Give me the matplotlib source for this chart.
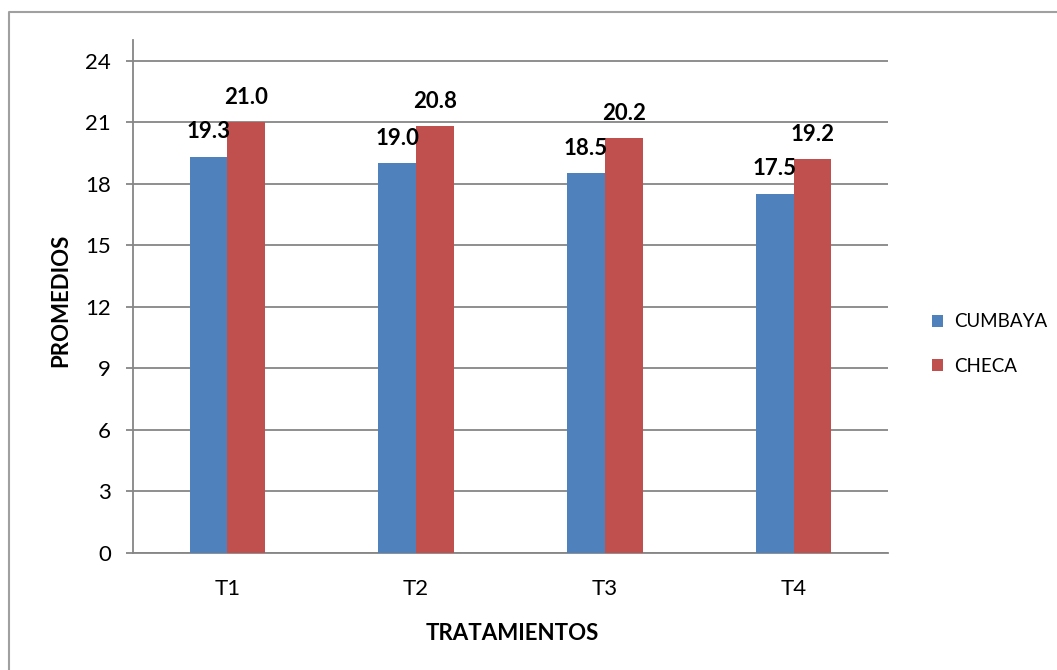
import matplotlib
matplotlib.use("Agg")
import matplotlib.pyplot as plt
from matplotlib.lines import Line2D
from matplotlib.patches import Patch
import numpy as np

plt.rcParams['font.family'] = ['Lato', 'DejaVu Sans']

categories = ["T1", "T2", "T3", "T4"]
cumbaya = [19.3, 19.0, 18.5, 17.5]
checa = [21.0, 20.8, 20.2, 19.2]
series_names = ["CUMBAYA", "CHECA"]
yticks = [0, 3, 6, 9, 12, 15, 18, 21, 24]

blue = "#4F81BD"
red = "#C0504D"
grid_gray = "#868686"

fig = plt.figure(figsize=(10.57, 6.70), dpi=100)
ax = fig.add_axes([133 / 1057, 1 - 553 / 670, (888 - 133) / 1057, (553 - 40) / 670])

x = np.arange(len(categories))
w = 0.2
b1 = ax.bar(x - w / 2, cumbaya, width=w, color=blue, zorder=3)
b2 = ax.bar(x + w / 2, checa, width=w, color=red, zorder=3)

for bars, vals in ((b1, cumbaya), (b2, checa)):
    for rect, v in zip(bars, vals):
        ax.annotate(f"{v:.1f}", (rect.get_x() + rect.get_width() / 2, v),
                    xytext=(0, 18), textcoords="offset points",
                    ha="center", va="center", fontsize=16, fontweight="bold",
                    color="black", zorder=5)

ax.set_xlim(-0.5, len(categories) - 0.5)
ax.set_ylim(0, 25)
ax.set_yticks(yticks)
ax.set_xticks(x)
ax.set_xticklabels(categories)
ax.yaxis.grid(True, color=grid_gray, linewidth=1.3, zorder=0)
ax.set_axisbelow(True)

for side in ("top", "right"):
    ax.spines[side].set_visible(False)
for side in ("left", "bottom"):
    ax.spines[side].set_color(grid_gray)
    ax.spines[side].set_linewidth(1.3)

ax.tick_params(axis="y", length=5, width=1.3, color=grid_gray, pad=11, labelsize=16)
ax.tick_params(axis="x", length=0, pad=19, labelsize=16)

ax.set_ylabel("PROMEDIOS", fontsize=16, fontweight="bold")
ax.set_xlabel("TRATAMIENTOS", fontsize=16, fontweight="bold")
ax.yaxis.set_label_coords(-0.082, 0.493)
ax.xaxis.set_label_coords(0.502, -0.136)

handles = [Patch(facecolor=blue, edgecolor="none"), Patch(facecolor=red, edgecolor="none")]
fig.legend(handles, series_names, loc="center left",
           bbox_to_anchor=(915 / 1057, 1 - 344 / 670), frameon=False,
           fontsize=13.5, handlelength=0.6, handleheight=0.6,
           handletextpad=0.6, labelspacing=1.45)

# outer frame lines
fig.add_artist(Line2D([9 / 1057, 9 / 1057, 1.0], [0.0, 1 - 12 / 670, 1 - 12 / 670],
                      transform=fig.transFigure, color="#A0A0A0", linewidth=1.5))

fig.savefig("out.png", dpi=100)
